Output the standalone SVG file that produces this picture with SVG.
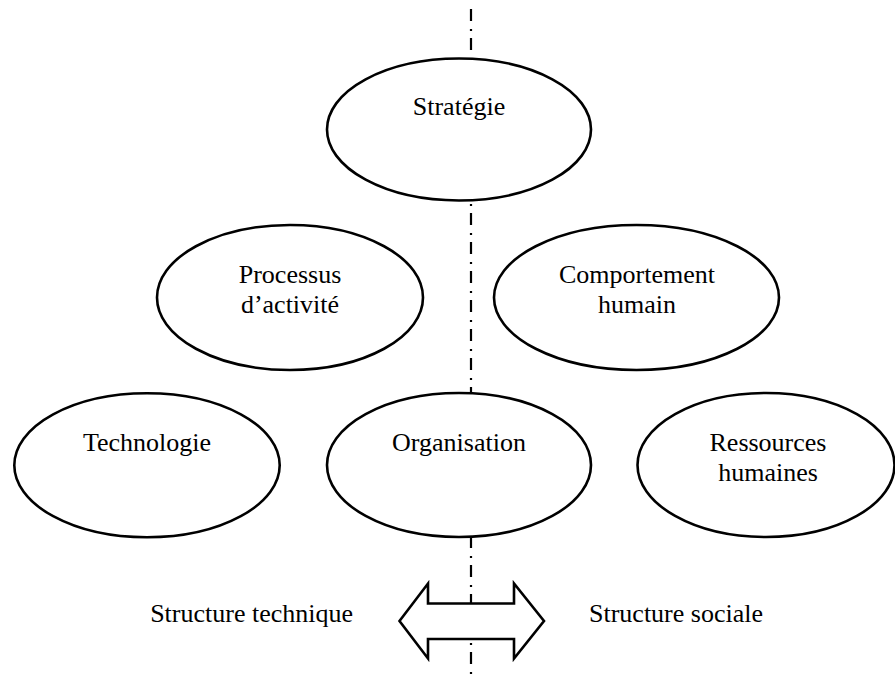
<svg xmlns="http://www.w3.org/2000/svg" width="895" height="675" viewBox="0 0 895 675">
<style>
.n ellipse{fill:#fff;stroke:#000;stroke-width:2.6}
text{font-family:"Liberation Serif","Times New Roman",serif;font-size:26px;fill:#000;text-anchor:middle}
.axis{stroke:#000;stroke-width:2.2;stroke-dasharray:12 8 2 7;fill:none}
.arrow{fill:#fff;stroke:#000;stroke-width:2.6;stroke-linejoin:miter}
</style>
<rect width="895" height="675" fill="#fff"/>
<g id="connectors">
<line class="axis" x1="471" y1="9" x2="471" y2="58"/>
<line class="axis" x1="471" y1="204" x2="471" y2="392" style="stroke-dasharray:2 7 12 8"/>
<line class="axis" x1="471" y1="536" x2="471" y2="675"/>
</g>
<g id="strategie" class="n"><ellipse cx="459" cy="129.5" rx="132" ry="71"/><text x="459" y="115">Stratégie</text></g>
<g id="processus" class="n"><ellipse cx="290" cy="297.5" rx="133" ry="72.5"/><text x="290" y="283">Processus</text><text x="290" y="313">d’activité</text></g>
<g id="comportement" class="n"><ellipse cx="636.5" cy="297.5" rx="142.5" ry="72.5"/><text x="637" y="283">Comportement</text><text x="637" y="313">humain</text></g>
<g id="technologie" class="n"><ellipse cx="147" cy="465.3" rx="132.7" ry="72"/><text x="147" y="451">Technologie</text></g>
<g id="organisation" class="n"><ellipse cx="459" cy="465" rx="132" ry="72"/><text x="459" y="451">Organisation</text></g>
<g id="ressources" class="n"><ellipse cx="766" cy="465" rx="128.5" ry="72"/><text x="768" y="451">Ressources</text><text x="768" y="481">humaines</text></g>
<g id="double-arrow"><polygon class="arrow" points="399.5,621 428,583.5 428,603.5 514,603.5 514,583.5 544,621 514,658.5 514,639 428,639 428,658.5"/></g>
<g id="labels">
<text x="353" y="622" style="text-anchor:end">Structure technique</text>
<text x="589" y="622" style="text-anchor:start">Structure sociale</text>
</g>
</svg>
